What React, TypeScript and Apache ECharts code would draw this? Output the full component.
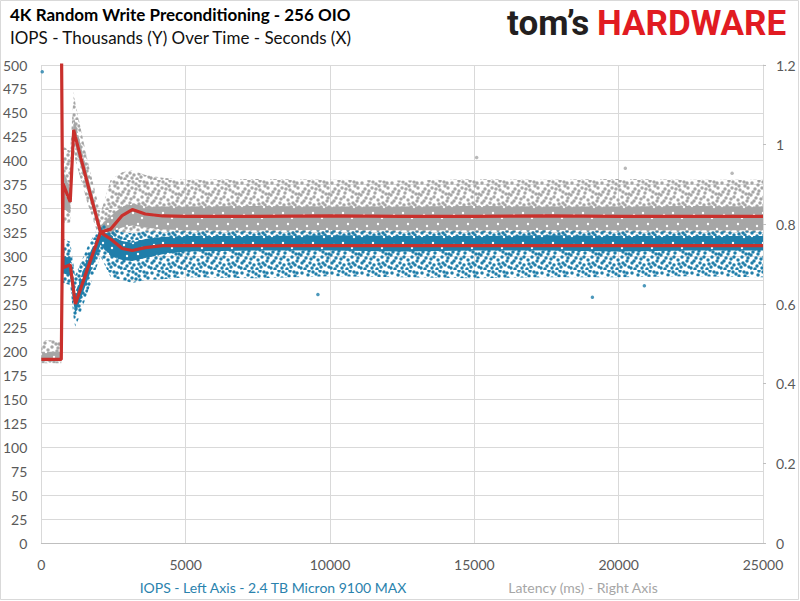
import React, { useEffect, useRef } from 'react';
import * as echarts from 'echarts';

// ---- data ----
const TIMES = [0, 690, 750, 1000, 1120, 1180, 1600, 2050, 2400, 2800, 3150, 3600, 4200, 5000, 7500, 10000, 12500, 15000, 17500, 20000, 22500, 25000];

// IOPS (thousands), left axis
const IOPS_TREND = [555, 555, 288, 291, 263, 250, 287, 325, 318, 308, 306, 309, 311, 311, 311, 311, 311, 311, 311, 311, 311, 311];
const IOPS_OUTER_LOW = [540, 540, 272, 270, 235, 225, 262, 300, 278, 275, 272, 275, 276, 278, 277, 279, 278, 277, 278, 278, 279, 278];
const IOPS_CORE_LOW = [548, 548, 282, 280, 250, 240, 275, 312, 300, 296, 295, 298, 302, 305, 306, 306, 305, 306, 306, 305, 306, 306];
const IOPS_CORE_HIGH = [562, 562, 300, 300, 275, 262, 298, 328, 322, 316, 314, 318, 320, 321, 321, 322, 321, 321, 322, 321, 321, 321];
const IOPS_OUTER_HIGH = [575, 575, 318, 315, 290, 280, 310, 335, 330, 325, 324, 326, 326, 326, 326, 327, 326, 326, 327, 326, 326, 326];
const IOPS_OUTLIERS = [[30, 493], [9580, 260], [19090, 257], [20890, 269]];

// Latency (ms), right axis
const LAT_TREND = [0.461, 0.461, 0.902, 0.856, 1.037, 1.019, 0.902, 0.780, 0.788, 0.822, 0.837, 0.826, 0.821, 0.820, 0.820, 0.821, 0.820, 0.820, 0.821, 0.820, 0.820, 0.820];
const LAT_OUTER_LOW = [0.451, 0.451, 0.804, 0.804, 0.984, 0.960, 0.852, 0.756, 0.768, 0.780, 0.782, 0.782, 0.780, 0.780, 0.779, 0.780, 0.780, 0.779, 0.780, 0.780, 0.779, 0.780];
const LAT_CORE_LOW = [0.456, 0.456, 0.840, 0.828, 1.020, 0.996, 0.883, 0.768, 0.780, 0.792, 0.797, 0.792, 0.787, 0.785, 0.785, 0.786, 0.785, 0.785, 0.786, 0.785, 0.785, 0.785];
const LAT_CORE_HIGH = [0.480, 0.480, 0.936, 0.888, 1.068, 1.056, 0.924, 0.797, 0.821, 0.845, 0.852, 0.845, 0.845, 0.845, 0.846, 0.845, 0.845, 0.846, 0.845, 0.845, 0.846, 0.845];
const LAT_OUTER_HIGH = [0.509, 0.509, 0.996, 0.984, 1.133, 1.104, 0.960, 0.828, 0.912, 0.931, 0.936, 0.924, 0.917, 0.912, 0.914, 0.912, 0.910, 0.913, 0.912, 0.914, 0.912, 0.912];
const LAT_OUTLIERS = [[15080, 0.968], [20230, 0.941], [23930, 0.928]];

const X_TICKS = [0, 5000, 10000, 15000, 20000, 25000];

// ---- styles ----
const BLUE = '#1f7eaa';
const GRAY = '#a6a6a6';
const RED = '#c9302c';
const TILE = 30;
const SPARSE_DOTS = [[2, 3], [9, 1], [16, 4], [24, 2], [28, 8], [5, 9], [12, 8], [20, 10], [26, 14], [1, 15], [8, 14], [15, 13], [22, 17], [4, 21], [11, 19], [18, 20], [27, 21], [7, 26], [14, 25], [21, 27], [25, 25], [1, 28], [17, 29], [10, 23], [29, 27], [13, 2], [19, 6], [3, 12], [23, 23], [8, 5], [6, 18], [25, 6], [19, 24], [29, 14], [12, 28], [16, 9], [2, 23], [23, 12], [9, 11], [27, 3], [14, 17], [20, 1], [5, 29], [28, 18]];
const CORE_HOLES = [[4, 5], [13, 3], [22, 8], [7, 16], [18, 14], [27, 19], [11, 24], [24, 27], [2, 26], [16, 22]];

function makePattern(color: string, dense: boolean) {
  const c = document.createElement('canvas');
  c.width = TILE;
  c.height = TILE;
  const ctx = c.getContext('2d')!;
  if (dense) {
    ctx.fillStyle = color;
    ctx.fillRect(0, 0, TILE, TILE);
    ctx.fillStyle = '#ffffff';
    for (const [x, y] of CORE_HOLES) {
      ctx.beginPath();
      ctx.arc(x, y, 1.2, 0, Math.PI * 2);
      ctx.fill();
    }
  } else {
    ctx.fillStyle = color;
    for (const [x, y] of SPARSE_DOTS) {
      ctx.beginPath();
      ctx.arc(x, y, 1.75, 0, Math.PI * 2);
      ctx.fill();
    }
  }
  return { image: c.toDataURL(), repeat: 'repeat', imageWidth: TILE, imageHeight: TILE };
}

const pairs = (vals: number[]) => TIMES.map((t, i) => [t, vals[i]]);

function bandSeries(name: string, lo: number[], hi: number[], axis: number, fill: any) {
  return {
    name, type: 'custom', yAxisIndex: axis, silent: true, clip: true,
    data: TIMES.map((t, i) => [t, lo[i], hi[i]]),
    encode: { x: 0, y: [1, 2] },
    renderItem: (params: any, api: any) => {
      if (params.dataIndex !== 0) return null;
      const cs = params.coordSys;
      const clampY = (p: number[]) => [p[0], Math.max(cs.y, Math.min(cs.y + cs.height, p[1]))];
      const top = TIMES.map((t, i) => clampY(api.coord([t, hi[i]])));
      const bot = TIMES.map((t, i) => clampY(api.coord([t, lo[i]]))).reverse();
      return {
        type: 'polygon',
        shape: { points: top.concat(bot) },
        style: { fill },
      };
    },
  };
}

export default function App() {
  const ref = useRef<HTMLDivElement>(null);
  useEffect(() => {
    const chart = echarts.init(ref.current!, null, { renderer: 'svg' });
    const font = 'Lato';
    const option: any = {
      animation: false,
      backgroundColor: '#ffffff',
      grid: { left: 41, right: 37, top: 65, bottom: 58 },
      xAxis: {
        type: 'value', min: 0, max: 25000, interval: 5000,
        axisLine: { show: true, lineStyle: { color: '#bfbfbf' } },
        axisTick: { show: false },
        splitLine: { show: true, lineStyle: { color: '#d9d9d9' } },
        axisLabel: { color: '#595959', fontFamily: font, fontSize: 14, margin: 14,
          formatter: (v: number) => (X_TICKS.includes(v) ? String(v) : '') },
      },
      yAxis: [
        {
          type: 'value', min: 0, max: 500, interval: 25,
          axisLine: { show: false }, axisTick: { show: false },
          splitLine: { show: true, lineStyle: { color: '#d9d9d9' } },
          axisLabel: { color: '#595959', fontFamily: font, fontSize: 14, margin: 14 },
        },
        {
          type: 'value', min: 0, max: 1.2, interval: 0.2, position: 'right',
          axisLine: { show: true, lineStyle: { color: '#d9d9d9' } },
          axisTick: { show: true, length: 3, lineStyle: { color: '#bfbfbf' } },
          splitLine: { show: false },
          axisLabel: { color: '#595959', fontFamily: font, fontSize: 14, margin: 13,
            formatter: (v: number) => String(+v.toFixed(1)) },
        },
      ],
      series: [
        bandSeries('lat-outer', LAT_OUTER_LOW, LAT_OUTER_HIGH, 1, makePattern(GRAY, false)),
        bandSeries('lat-core', LAT_CORE_LOW, LAT_CORE_HIGH, 1, makePattern(GRAY, true)),
        bandSeries('iops-outer', IOPS_OUTER_LOW, IOPS_OUTER_HIGH, 0, makePattern(BLUE, false)),
        bandSeries('iops-core', IOPS_CORE_LOW, IOPS_CORE_HIGH, 0, makePattern(BLUE, true)),
        {
          name: 'lat-outliers', type: 'scatter', yAxisIndex: 1, data: LAT_OUTLIERS, symbolSize: 3.5,
          itemStyle: { color: GRAY }, silent: true,
        },
        {
          name: 'iops-outliers', type: 'scatter', yAxisIndex: 0, data: IOPS_OUTLIERS, symbolSize: 3.5,
          itemStyle: { color: BLUE }, silent: true,
        },
        {
          name: 'Latency trend', type: 'line', yAxisIndex: 1, data: pairs(LAT_TREND), symbol: 'none',
          lineStyle: { color: RED, width: 3.2 }, z: 5, silent: true,
        },
        {
          name: 'IOPS trend', type: 'line', yAxisIndex: 0, data: pairs(IOPS_TREND), symbol: 'none',
          lineStyle: { color: RED, width: 3.2 }, z: 5, silent: true,
        },
      ],
      graphic: [
        { type: 'rect', shape: { x: 0.5, y: 0.5, width: 798, height: 599 }, style: { fill: 'none', stroke: '#d9d9d9', lineWidth: 1 }, silent: true },
        { type: 'text', left: 10, top: 6, style: { text: '4K Random Write Preconditioning - 256 OIO', font: 'bold 17px Lato', fill: '#000000' } },
        { type: 'text', left: 10, top: 29, style: { text: 'IOPS - Thousands (Y) Over Time - Seconds (X)', font: '17px Lato', fill: '#111111' } },
        { type: 'text', left: 507, top: 6, style: { text: 'tom\u2019s', font: 'bold 35px Roboto', fill: '#231f20' } },
        { type: 'text', left: 597, top: 6, style: { text: 'HARDWARE', font: 'bold 35px Roboto', fill: '#e11b22' } },
        { type: 'text', x: 273, y: 587, style: { text: 'IOPS - Left Axis - 2.4 TB Micron 9100 MAX', font: '14px Lato', fill: '#2a82ad', align: 'center', verticalAlign: 'middle' } },
        { type: 'text', x: 583, y: 587, style: { text: 'Latency (ms) - Right Axis', font: '14px Lato', fill: '#a6a6a6', align: 'center', verticalAlign: 'middle' } },
      ],
    };
    chart.setOption(option);
    return () => chart.dispose();
  }, []);
  return <div ref={ref} style={{ position: 'absolute', left: 0, top: 0, width: 800, height: 601, background: '#fff' }} />;
}
